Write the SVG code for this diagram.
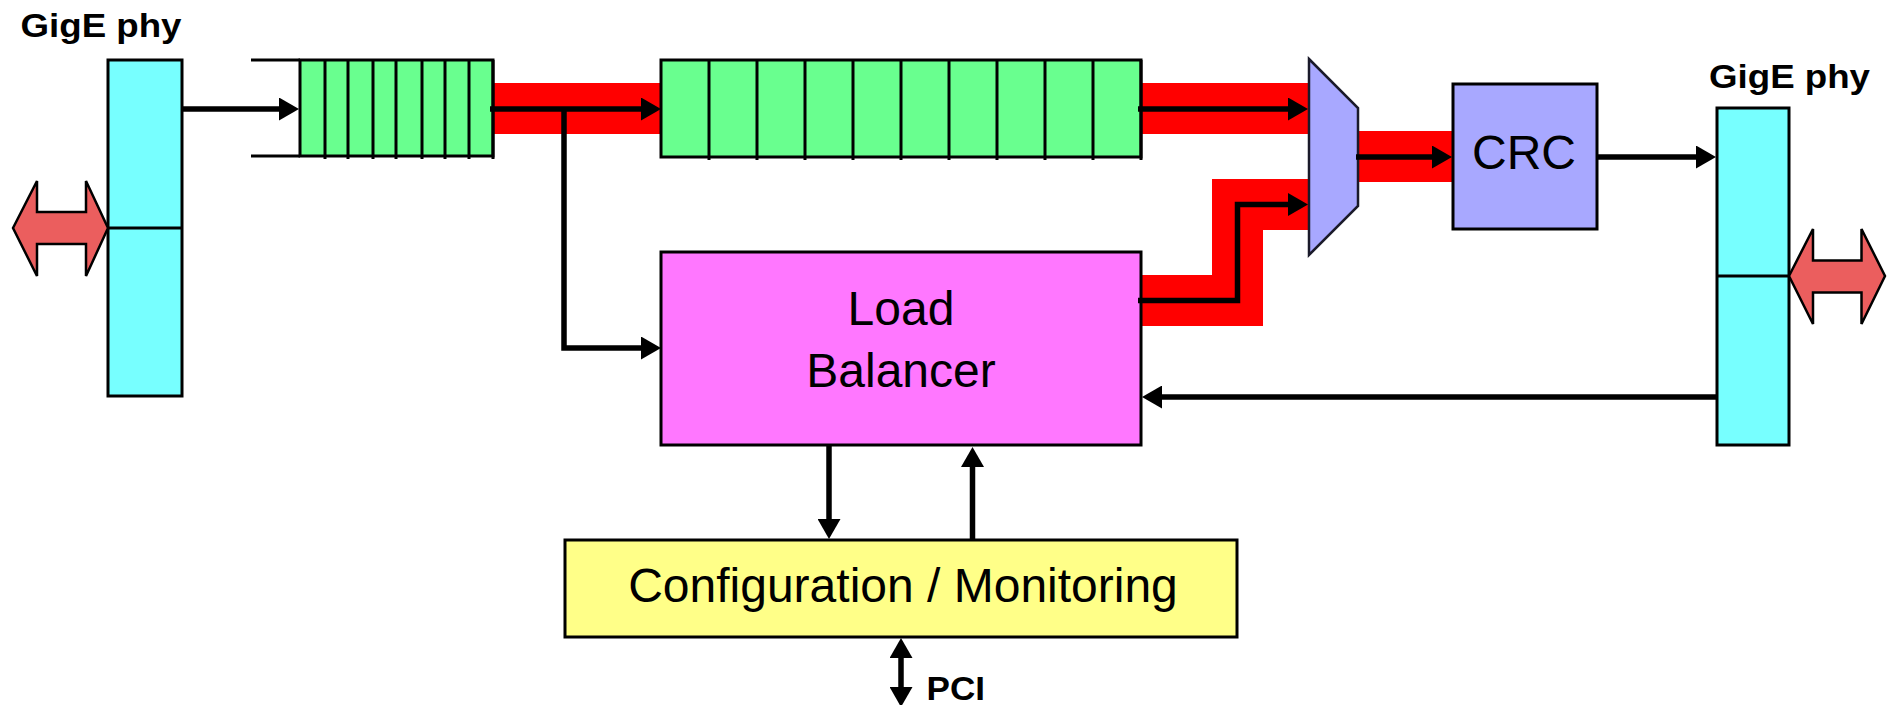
<svg xmlns="http://www.w3.org/2000/svg" width="1891" height="705" viewBox="0 0 1891 705">
<style>
.box{stroke:#000;stroke-width:3}
.phy{fill:#77FFFF}
.fifo{fill:#69FF8F}
.div{stroke:#000;stroke-width:3}
.bus{fill:none;stroke:#FF0000;stroke-width:51;stroke-linejoin:miter;stroke-linecap:butt}
.ln{fill:none;stroke:#000;stroke-width:5.5;stroke-linejoin:miter}
.arr{stroke:#000;stroke-width:5.5;fill:none}
.dbl{fill:#EB5E5E;stroke:#000;stroke-width:2.5;stroke-linejoin:miter}
.lbl{font-family:"Liberation Sans",Arial,sans-serif;font-weight:bold;font-size:34px;fill:#000}
.txt{font-family:"Liberation Sans",Arial,sans-serif;font-size:48px;fill:#000;text-anchor:middle}
</style>
<defs>
<marker id="ah" markerUnits="userSpaceOnUse" markerWidth="21" markerHeight="23" refX="1" refY="11.5" orient="auto-start-reverse" viewBox="0 0 21 23">
<path d="M0,0 L20,11.5 L0,23 z" fill="#000"/>
</marker>
</defs>

<!-- red buses (background) -->
<g id="buses">
<path class="bus" d="M493,108.5 H661"/>
<path class="bus" d="M1141,108.5 H1309"/>
<path class="bus" d="M1358,156.5 H1453"/>
<path class="bus" d="M1141,300.5 H1237.5 V204.5 H1309"/>
</g>

<g id="phy-left">
<text class="lbl" x="20.5" y="37" textLength="161" lengthAdjust="spacingAndGlyphs">GigE phy</text>
<rect class="box phy" x="108" y="60" width="74" height="336"/>
<line class="div" x1="108" y1="228" x2="182" y2="228"/>
<polygon class="dbl" points="13,228 37,181 37,212 86,212 86,181 108,228 86,276 86,244 37,244 37,276"/>
</g>

<g id="fifo-in">
<line class="div" x1="251" y1="60" x2="300" y2="60"/>
<line class="div" x1="251" y1="156" x2="300" y2="156"/>
<rect class="box fifo" x="300" y="60" width="193" height="96"/>
<g class="div">
<line x1="325" y1="60" x2="325" y2="159"/>
<line x1="348" y1="60" x2="348" y2="159"/>
<line x1="373" y1="60" x2="373" y2="159"/>
<line x1="396" y1="60" x2="396" y2="159"/>
<line x1="422" y1="60" x2="422" y2="159"/>
<line x1="445" y1="60" x2="445" y2="159"/>
<line x1="469" y1="60" x2="469" y2="159"/>
<line x1="493" y1="60" x2="493" y2="159"/>
</g>
</g>

<g id="fifo-main">
<rect class="box fifo" x="661" y="60" width="480" height="97"/>
<g class="div">
<line x1="709" y1="60" x2="709" y2="160"/>
<line x1="757" y1="60" x2="757" y2="160"/>
<line x1="805" y1="60" x2="805" y2="160"/>
<line x1="853" y1="60" x2="853" y2="160"/>
<line x1="901" y1="60" x2="901" y2="160"/>
<line x1="949" y1="60" x2="949" y2="160"/>
<line x1="997" y1="60" x2="997" y2="160"/>
<line x1="1045" y1="60" x2="1045" y2="160"/>
<line x1="1093" y1="60" x2="1093" y2="160"/>
<line x1="1141" y1="60" x2="1141" y2="160"/>
</g>
</g>

<g id="mux">
<polygon points="1309,59 1358,108 1358,206 1309,255" fill="#A8A8FF" stroke="#1a1a2a" stroke-width="2.5"/>
</g>

<g id="crc">
<rect class="box" x="1453" y="84" width="144" height="145" fill="#A8A8FF"/>
<text class="txt" x="1524" y="169">CRC</text>
</g>

<g id="phy-right">
<text class="lbl" x="1709" y="87.5" textLength="161" lengthAdjust="spacingAndGlyphs">GigE phy</text>
<rect class="box phy" x="1717" y="108" width="72" height="337"/>
<line class="div" x1="1717" y1="276" x2="1789" y2="276"/>
<polygon class="dbl" points="1789,276 1813,229 1813,260.5 1861.5,260.5 1861.5,229 1885,276 1861.5,324 1861.5,292.5 1813,292.5 1813,324"/>
</g>

<g id="load-balancer">
<rect class="box" x="661" y="252" width="480" height="193" fill="#FF77FF"/>
<text class="txt" x="901" y="325">Load</text>
<text class="txt" x="901" y="387">Balancer</text>
</g>

<g id="config">
<rect class="box" x="565" y="540" width="672" height="97" fill="#FFFF88"/>
<text class="txt" x="903" y="602">Configuration / Monitoring</text>
</g>

<g id="pci">
<text class="lbl" x="926.5" y="700" font-size="35" textLength="58.5" lengthAdjust="spacingAndGlyphs">PCI</text>
</g>

<g id="connectors">
<line class="arr" x1="182" y1="109" x2="280" y2="109" marker-end="url(#ah)"/>
<line class="arr" x1="490" y1="109" x2="642" y2="109" marker-end="url(#ah)"/>
<path class="ln" d="M564,109 V348 H642" marker-end="url(#ah)"/>
<line class="arr" x1="1138" y1="109" x2="1289" y2="109" marker-end="url(#ah)"/>
<line class="arr" x1="1356" y1="157" x2="1433" y2="157" marker-end="url(#ah)"/>
<path class="ln" d="M1138,300.5 H1237.5 V204.5 H1289" marker-end="url(#ah)"/>
<line class="arr" x1="1597" y1="157" x2="1697" y2="157" marker-end="url(#ah)"/>
<line class="arr" x1="1717" y1="397" x2="1161" y2="397" marker-end="url(#ah)"/>
<line class="arr" x1="829" y1="445" x2="829" y2="520" marker-end="url(#ah)"/>
<line class="arr" x1="972.5" y1="541" x2="972.5" y2="466" marker-end="url(#ah)"/>
<line class="arr" x1="901" y1="657" x2="901" y2="688" marker-start="url(#ah)" marker-end="url(#ah)"/>
</g>
</svg>
